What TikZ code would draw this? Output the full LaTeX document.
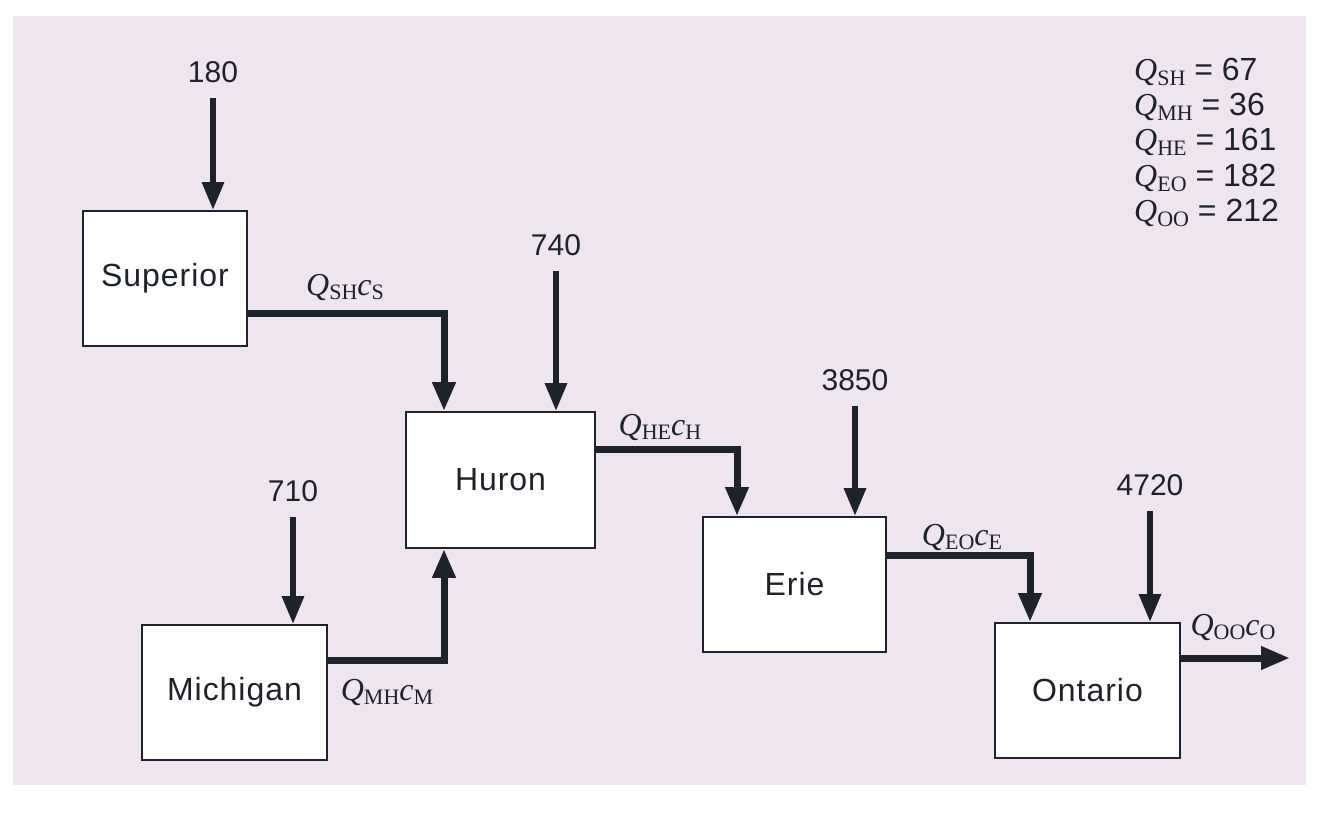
\documentclass[tikz,border=0pt]{standalone}
\usepackage{fontspec}
\setmainfont{Liberation Sans}
\newfontfamily\serf{Liberation Serif}
\usetikzlibrary{arrows.meta}
\definecolor{bg}{HTML}{EFE5EF}
\definecolor{ink}{HTML}{1E222B}
\newcommand\Qsub[1]{{\serf\itshape Q}{\serf\fontsize{22}{22}\selectfont\raisebox{-0.45ex}{#1}}}
\newcommand\csub[1]{{\serf\itshape c}{\serf\fontsize{22}{22}\selectfont\raisebox{-0.45ex}{#1}}}
\tikzset{
  lake/.style={draw=ink, line width=1.8pt, fill=white, inner sep=0pt,
    font=\fontsize{32}{32}\selectfont\addfontfeatures{LetterSpace=3}, text=ink},
  num/.style={inner sep=0pt, font=\fontsize{30}{30}\selectfont, text=ink},
  flowlbl/.style={inner sep=0pt, font=\fontsize{32}{32}\selectfont, text=ink},
  flow/.style={draw=ink, line width=7pt, -{Triangle[width=22pt,length=29pt]}},
  inflow/.style={draw=ink, line width=6pt, shorten <=15pt, -{Triangle[width=21pt,length=28pt]}},
  legend/.style={inner sep=0pt, anchor=west, font=\fontsize{32}{32}\selectfont, text=ink}
}
\begin{document}
\begin{tikzpicture}[x=1pt,y=-1pt]
\useasboundingbox (0,0) rectangle (1326,812);
\fill[bg] (13,16) rectangle (1306,785);

% lakes
\node[lake, minimum width=164pt, minimum height=135pt] (sup) at (165,278.5) {Superior};
\node[lake, minimum width=189pt, minimum height=136pt] (hur) at (500.5,480) {Huron};
\node[lake, minimum width=185pt, minimum height=135pt] (mic) at (234.5,692.5) {Michigan};
\node[lake, minimum width=183pt, minimum height=135pt] (eri) at (794.5,584.5) {Erie};
\node[lake, minimum width=185pt, minimum height=135pt] (ont) at (1087.5,690.5) {Ontario};

% loads
\node[num] (l180) at (213,72) {180};
\node[num] (l740) at (556,245) {740};
\node[num] (l710) at (293,491) {710};
\node[num] (l3850) at (855,380) {3850};
\node[num] (l4720) at (1150,485) {4720};

\draw[inflow] (l180.south) -- (l180.south |- sup.north);
\draw[inflow] (l740.south) -- (l740.south |- hur.north);
\draw[inflow] (l710.south) -- (l710.south |- mic.north);
\draw[inflow] (l3850.south) -- (l3850.south |- eri.north);
\draw[inflow] (l4720.south) -- (l4720.south |- ont.north);

% flows
\draw[flow] ([yshift=-34.5pt]sup.east) -| ([xshift=-56.5pt]hur.north);
\draw[flow] ([yshift=32.5pt]mic.east) -| ([xshift=-56.5pt]hur.south);
\draw[flow] ([yshift=31pt]hur.east) -| ([xshift=-57.5pt]eri.north);
\draw[flow] ([yshift=29.5pt]eri.east) -| ([xshift=-57.5pt]ont.north);
\coordinate (out) at (1290,658);
\draw[flow] ([yshift=32.5pt]ont.east) -- (out);

% flow labels
\node[flowlbl] (fSH) at (345,287) {\Qsub{SH}\csub{S}};
\node[flowlbl] (fMH) at (387,692) {\Qsub{MH}\csub{M}};
\node[flowlbl] (fHE) at (660,427) {\Qsub{HE}\csub{H}};
\node[flowlbl] (fEO) at (962,537) {\Qsub{EO}\csub{E}};
\node[flowlbl] (fOO) at (1233,627) {\Qsub{OO}\csub{O}};

% legend
\node[legend] (q1) at (1134,72) {\Qsub{SH} = 67};
\node[legend] (q2) at (1134,107) {\Qsub{MH} = 36};
\node[legend] (q3) at (1134,142) {\Qsub{HE} = 161};
\node[legend] (q4) at (1134,178) {\Qsub{EO} = 182};
\node[legend] (q5) at (1134,213) {\Qsub{OO} = 212};
\end{tikzpicture}
\end{document}
